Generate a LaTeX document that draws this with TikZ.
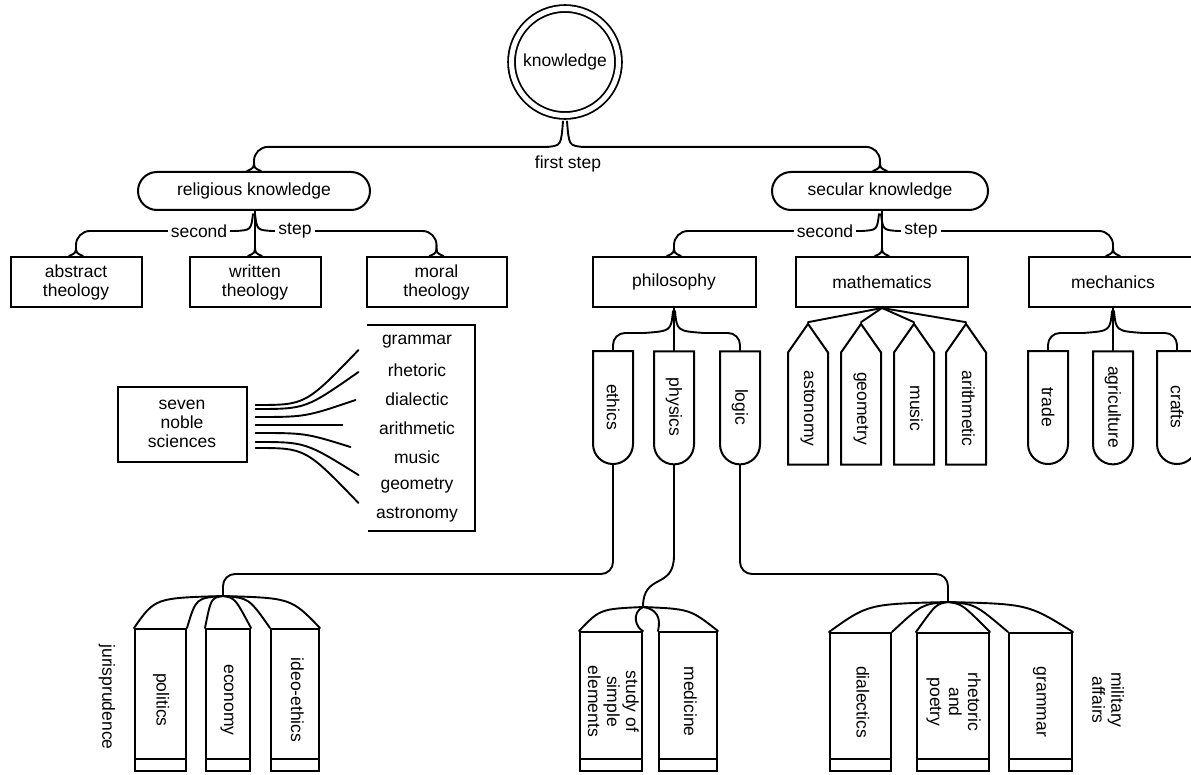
\documentclass[tikz,border=0pt]{standalone}
\usepackage{fontspec}
\setmainfont{Liberation Sans}
\usepackage{graphicx}
\usetikzlibrary{shapes.misc,shapes.symbols,positioning,calc}

% vertical text, read from top to bottom
\newcommand{\vtext}[1]{\rotatebox{-90}{\begin{tabular}{@{}c@{}}#1\end{tabular}}}
% little forked foot where a connector meets a box
\newcommand{\flare}[1]{%
  \draw[conn] ($(#1)+(0,-11)$) .. controls ($(#1)+(0,-3)$) .. ($(#1)+(-7,0)$);
  \draw[conn] ($(#1)+(0,-11)$) .. controls ($(#1)+(0,-3)$) .. ($(#1)+(7,0)$);}

\begin{document}
\begin{tikzpicture}[
    x=1pt, y=-1pt,
    font=\fontsize{17.5}{19}\selectfont,
    conn/.style={line width=1.9pt, line cap=round},
    hub/.style={circle, draw, double, line width=1.8pt, double distance=5pt, minimum size=107pt, inner sep=0pt},
    pill/.style={rounded rectangle, draw, line width=2pt, minimum height=38pt, inner sep=2pt},
    boxa/.style={rectangle, draw, line width=2pt, minimum height=50pt, align=center, inner sep=2pt},
    capsule/.style={rounded rectangle, rounded rectangle west arc=none, draw, line width=2pt, rotate=-90, minimum width=115pt, minimum height=40pt, inner sep=1pt},
    penc/.style={signal, signal to=north, signal pointer angle=70, draw, line width=2pt, minimum width=40pt, minimum height=127pt, inner sep=1pt},
    book/.style={rectangle, draw, line width=2pt, inner sep=1pt, path picture={\draw[line width=2pt] ([yshift=12pt]path picture bounding box.south west) -- ([yshift=12pt]path picture bounding box.south east);}},
    lbl/.style={fill=white, inner sep=3pt},
    word/.style={minimum height=28.3pt, inner sep=0pt}
]
\useasboundingbox (0,0) rectangle (1191,775);

% top of the tree
\node[hub] (know) at (565,62) {knowledge};
\node (fstep) at (568,164) {first step};
\node[pill, minimum width=236pt] (rel) at (254,191) {religious knowledge};
\node[pill, minimum width=220pt] (sec) at (880,191) {secular knowledge};

% religious side
\node[boxa, minimum width=131pt] (wri) at (255,282) {written\\theology};
\node[boxa, minimum width=131pt, left=46pt of wri] (abs) {abstract\\theology};
\node[boxa, minimum width=140pt, right=44pt of wri] (mor) {moral\\theology};

% secular side
\node[boxa, minimum width=172pt] (mat) at (882,282) {mathematics};
\node[boxa, minimum width=163pt, left=38.5pt of mat] (phi) {philosophy};
\node[boxa, minimum width=168pt, right=59pt of mat] (mec) {mechanics};

\node[capsule] (eth) at (613,407) {ethics};
\node[capsule] (phy) at (phi.south |- 0,407) {physics};
\node[capsule] (log) at (740,407) {logic};
\node[penc] (ast) at (808,408.5) {\vtext{astonomy}};
\node[penc] (geo) at (861,408.5) {\vtext{geometry}};
\node[penc] (mus) at (914,408.5) {\vtext{music}};
\node[penc] (ari) at (966,408.5) {\vtext{arithmetic}};
\node[capsule] (tra) at (1048,407) {trade};
\node[capsule] (agr) at (mec.south |- 0,407) {agriculture};
\node[capsule] (cra) at (1177,407) {crafts};

% seven noble sciences
\node[boxa, minimum width=129pt, minimum height=75pt] (sns) at (182,424) {seven\\noble\\sciences};
\node[word] (gram) at (417,342) {grammar};
\node[word, below=0pt of gram] (rhet) {rhetoric};
\node[word, below=0pt of rhet] (dial) {dialectic};
\node[word, below=0pt of dial] (arit) {arithmetic};
\node[word, below=0pt of arit] (musi) {music};
\node[word, below=0pt of musi] (geom) {geometry};
\node[word, below=0pt of geom] (astr) {astronomy};

% bottom row
\node[book, minimum width=51pt, minimum height=142pt] (pol) at (160.5,700) {\vtext{politics}};
\node[book, minimum width=44pt, minimum height=142pt, right=18pt of pol] (eco) {\vtext{economy}};
\node[book, minimum width=48pt, minimum height=142pt, right=19pt of eco] (ide) {\vtext{ideo-ethics}};
\node[rotate=-90] (jur) at (107,697) {jurisprudence};

\node[book, minimum width=62pt, minimum height=139pt] (stu) at (611,701.5) {\vtext{study of\\simple\\elements}};
\node[book, minimum width=58pt, minimum height=139pt, right=15pt of stu] (med) {\vtext{medicine}};

\node[book, minimum width=61pt, minimum height=138pt] (dia) at (860.5,702) {\vtext{dialectics}};
\node[book, minimum width=72pt, minimum height=138pt, right=24pt of dia] (rhe) {\vtext{rhetoric\\and\\poetry}};
\node[book, minimum width=63pt, minimum height=138pt, right=18pt of rhe] (gra) {\vtext{grammar}};
\node[rotate=-90, align=center] (mil) at (1108,700) {military\\affairs};

\coordinate (j1) at (223,596);
\coordinate (j2) at (643,607);
\coordinate (j3) at (948,602);

% first step
\draw[conn] ($(know.south)+(-2,5)$) .. controls ($(know.south)+(-4,29)$) .. ($(know.south)+(-17,30.5)$);
\draw[conn] ($(know.south)+(2,5)$) .. controls ($(know.south)+(4,29)$) .. ($(know.south)+(17,30.5)$);
\draw[conn, rounded corners=14pt] ($(know.south)+(-17,30.5)$) -| ($(rel.north)+(0,-11)$);
\draw[conn, rounded corners=14pt] ($(know.south)+(17,30.5)$) -| ($(sec.north)+(0,-11)$);
\flare{rel.north}
\flare{sec.north}

% second step
\foreach \up/\lf/\md/\rt in {rel/abs/wri/mor, sec/phi/mat/mec} {
  \draw[conn] (\up.south -| \md.north) -- ($(\md.north)+(0,-11)$);
  \draw[conn] ($(\up.south)+(-1,3)$) .. controls ($(\up.south)+(-3,19)$) .. ($(\up.south)+(-18,20)$);
  \draw[conn] ($(\up.south)+(1,3)$) .. controls ($(\up.south)+(3,19)$) .. ($(\up.south)+(18,20)$);
  \draw[conn, rounded corners=14pt] ($(\up.south)+(-18,20)$) -| ($(\lf.north)+(0,-11)$);
  \draw[conn, rounded corners=14pt] ($(\up.south)+(18,20)$) -| ($(\rt.north)+(0,-11)$);
  \flare{\lf.north}
  \flare{\md.north}
  \flare{\rt.north}
  \node[lbl] at ($(\up.south)+(-55,20)$) {second};
  \node[lbl] at ($(\up.south)+(41,20)$) {step};
}

% philosophy and mechanics branches
\foreach \up/\lf/\md/\rt in {phi/eth/phy/log, mec/tra/agr/cra} {
  \draw[conn] (\up.south) -- (\md.west);
  \draw[conn] ($(\up.south)+(-1,3)$) .. controls ($(\up.south)+(-3,23)$) .. ($(\up.south)+(-30,25)$);
  \draw[conn] ($(\up.south)+(1,3)$) .. controls ($(\up.south)+(3,23)$) .. ($(\up.south)+(30,25)$);
  \draw[conn, rounded corners=12pt] ($(\up.south)+(-30,25)$) -| (\lf.west);
  \draw[conn, rounded corners=12pt] ($(\up.south)+(30,25)$) -| (\rt.west);
}

% mathematics fan
\foreach \p in {ast,geo,mus,ari}
  \draw[conn] (mat.south) -- (\p.north);

% seven noble sciences fan and bracket
\foreach \a/\ex/\ey in {-19/111/-74, -15/111/-52, -7/108/-24, 1/95/1, 9/103/23, 18/111/51, 24/111/79}
  \draw[conn] ($(sns.east)+(8,\a)$) .. controls ($(sns.east)+(58,\a)$) .. ($(sns.east)+(\ex,\ey)$);
\draw[line width=2pt] ($(gram.north)+(-50,-3)$) -| ($(astr.south)+(58,2)$) -- ($(astr.south)+(-49,2)$);

% down to the bottom row
\draw[conn, rounded corners=12pt] (eth.east) |- ($(j1)+(0,-22)$) -- (j1);
\draw[conn] (phy.east) -- ($(phy.east)+(0,90)$) .. controls ($(phy.east)+(0,125)$) and ($(j2)+(0,-35)$) .. (j2);
\draw[conn, rounded corners=12pt] (log.east) |- ($(j3)+(0,-28)$) -- (j3);

\foreach \cn/\kx in {pol.north west/155, pol.north east/196, eco.north west/211, eco.north east/235, ide.north west/249, ide.north east/291}
  \draw[conn] (j1) .. controls (\kx,598) .. (\cn);
\draw[conn] (j2) .. controls (600,609) .. (stu.north west);
\draw[conn] (j2) .. controls (690,609) .. (med.north east);
\draw[conn] (j2) .. controls (631,613) and (636,628) .. (stu.north east);
\draw[conn] (j2) .. controls (663,610) and (659,626) .. (med.north west);
\foreach \cn/\kx in {dia.north west/868, dia.north east/922, rhe.north west/936, rhe.north east/962, gra.north west/975, gra.north east/1028}
  \draw[conn] (j3) .. controls (\kx,604) .. (\cn);
\end{tikzpicture}
\end{document}
